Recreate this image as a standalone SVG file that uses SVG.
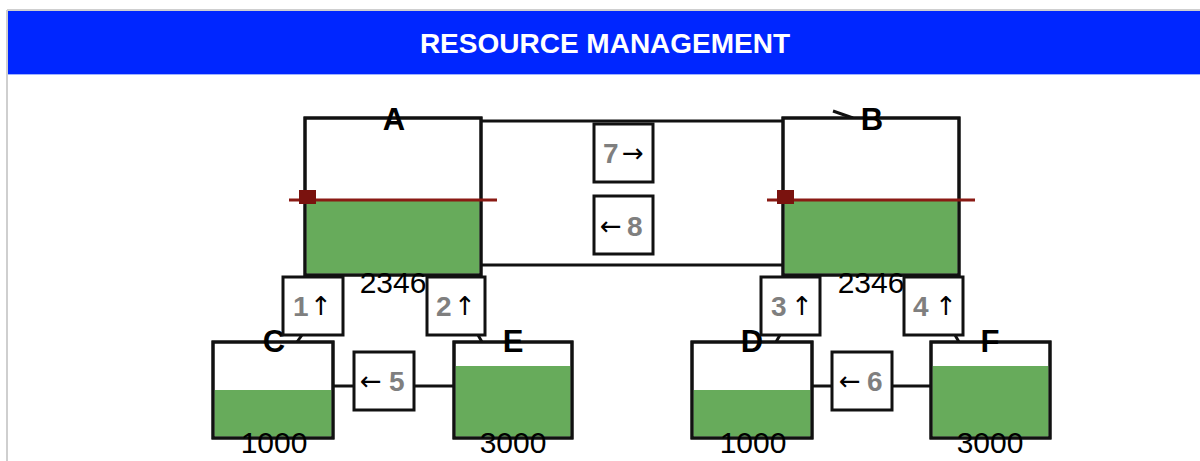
<svg xmlns="http://www.w3.org/2000/svg" width="1200" height="461" viewBox="0 0 1200 461">
<style>
.frame{fill:none;stroke:#cfcfcf;stroke-width:2}
.tank{fill:#fff;stroke:#111;stroke-width:3}
.tankline{fill:none;stroke:#111;stroke-width:3}
.water{fill:#67ab5b}
.level{stroke:#8a1a14;stroke-width:3}
.mark{fill:#7a120e}
.box{fill:#fff;stroke:#111;stroke-width:3}
.conn{fill:none;stroke:#111;stroke-width:3}
.title{font-family:"Liberation Sans",Arial,sans-serif;font-weight:bold;font-size:28px;fill:#fff}
.lbl{font-family:"Liberation Sans",Arial,sans-serif;font-weight:bold;font-size:31px;fill:#000;text-anchor:middle}
.val{font-family:"Liberation Sans",Arial,sans-serif;font-size:30px;fill:#000;text-anchor:middle}
.num{font-family:"Liberation Sans",Arial,sans-serif;font-weight:bold;font-size:28px;fill:#7f7f7f}
.arr{font-family:"DejaVu Sans",sans-serif;font-size:26px;fill:#000}
</style>
<rect x="0" y="0" width="1200" height="461" fill="#fff"/>
<g id="header">
<line class="frame" x1="7" y1="10" x2="1200" y2="10"/>
<line class="frame" x1="7" y1="10" x2="7" y2="461"/>
<rect x="8" y="11" width="1192" height="63" fill="#0026ff"/>
<line x1="8" y1="74.5" x2="1200" y2="74.5" stroke="#9fb2ff" stroke-width="1"/>
<text class="title" x="605" y="53" text-anchor="middle">RESOURCE MANAGEMENT</text>
</g>
<g id="connectors">
<line class="conn" x1="481" y1="121" x2="784" y2="121"/>
<line class="conn" x1="481" y1="265" x2="784" y2="265"/>
<line class="conn" x1="833" y1="111" x2="853" y2="118"/>
<line class="conn" x1="334" y1="386" x2="354" y2="386"/>
<line class="conn" x1="414" y1="386" x2="454" y2="386"/>
<line class="conn" x1="812" y1="386" x2="832" y2="386"/>
<line class="conn" x1="892" y1="386" x2="931" y2="386"/>
<line class="conn" x1="297" y1="342" x2="302" y2="335"/>
<line class="conn" x1="478" y1="335" x2="482" y2="342"/>
<line class="conn" x1="776" y1="342" x2="780" y2="335"/>
<line class="conn" x1="955" y1="335" x2="959" y2="342"/>
</g>
<g id="tankA">
<rect class="tank" x="305" y="118" width="176" height="157"/>
<rect class="water" x="306.5" y="200" width="173" height="73.5"/>
<rect class="tankline" x="305" y="118" width="176" height="157"/>
<line class="level" x1="289" y1="200" x2="497" y2="200"/>
<rect class="mark" x="299" y="190" width="17" height="14"/>
<text class="lbl" x="394" y="130">A</text>
<text class="val" x="393" y="293">2346</text>
</g>
<g id="tankB">
<rect class="tank" x="783" y="118" width="176" height="157"/>
<rect class="water" x="784.5" y="200" width="173" height="73.5"/>
<rect class="tankline" x="783" y="118" width="176" height="157"/>
<line class="level" x1="767" y1="200" x2="975" y2="200"/>
<rect class="mark" x="777" y="190" width="17" height="14"/>
<text class="lbl" x="872" y="130">B</text>
<text class="val" x="871" y="293">2346</text>
</g>
<g id="tankC">
<rect class="tank" x="213" y="342" width="120" height="96"/>
<rect class="water" x="214.5" y="390" width="117" height="46.5"/>
<rect class="tankline" x="213" y="342" width="120" height="96"/>
<text class="lbl" x="274" y="352">C</text>
<text class="val" x="274" y="453">1000</text>
</g>
<g id="tankE">
<rect class="tank" x="454" y="342" width="118" height="96"/>
<rect class="water" x="455.5" y="366" width="115" height="70.5"/>
<rect class="tankline" x="454" y="342" width="118" height="96"/>
<text class="lbl" x="513" y="352">E</text>
<text class="val" x="513" y="453">3000</text>
</g>
<g id="tankD">
<rect class="tank" x="692" y="342" width="120" height="96"/>
<rect class="water" x="693.5" y="390" width="117" height="46.5"/>
<rect class="tankline" x="692" y="342" width="120" height="96"/>
<text class="lbl" x="752" y="352">D</text>
<text class="val" x="753" y="453">1000</text>
</g>
<g id="tankF">
<rect class="tank" x="931" y="342" width="119" height="96"/>
<rect class="water" x="932.5" y="366" width="116" height="70.5"/>
<rect class="tankline" x="931" y="342" width="119" height="96"/>
<text class="lbl" x="990" y="352">F</text>
<text class="val" x="990" y="453">3000</text>
</g>
<g id="valve7">
<rect class="box" x="594" y="124" width="59" height="58"/>
<text y="163"><tspan class="num" x="603">7</tspan><tspan class="arr" x="622" y="162">→</tspan></text>
</g>
<g id="valve8">
<rect class="box" x="594" y="196" width="59" height="58"/>
<text y="236"><tspan class="arr" x="600" y="235">←</tspan><tspan class="num" x="627" y="236">8</tspan></text>
</g>
<g id="valve1">
<rect class="box" x="283" y="277" width="60" height="58"/>
<text y="316"><tspan class="num" x="293">1</tspan><tspan class="arr" x="310" y="315">↑</tspan></text>
</g>
<g id="valve2">
<rect class="box" x="427" y="277" width="58" height="58"/>
<text y="316"><tspan class="num" x="436">2</tspan><tspan class="arr" x="454" y="315">↑</tspan></text>
</g>
<g id="valve3">
<rect class="box" x="761" y="277" width="59" height="58"/>
<text y="316"><tspan class="num" x="771">3</tspan><tspan class="arr" x="791" y="315">↑</tspan></text>
</g>
<g id="valve4">
<rect class="box" x="904" y="277" width="59" height="58"/>
<text y="316"><tspan class="num" x="913">4</tspan><tspan class="arr" x="935" y="315">↑</tspan></text>
</g>
<g id="valve5">
<rect class="box" x="354" y="352" width="60" height="58"/>
<text y="391"><tspan class="arr" x="360" y="390">←</tspan><tspan class="num" x="389" y="391">5</tspan></text>
</g>
<g id="valve6">
<rect class="box" x="832" y="352" width="60" height="58"/>
<text y="391"><tspan class="arr" x="839" y="390">←</tspan><tspan class="num" x="867" y="391">6</tspan></text>
</g>
</svg>
